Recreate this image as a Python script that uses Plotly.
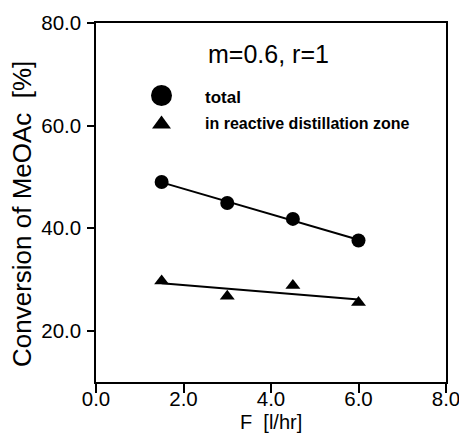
import numpy as np
import plotly.graph_objects as go

# Data
feed_rate = [1.5, 3.0, 4.5, 6.0]                 # F [l/hr]
conv_total = [49.0, 44.9, 41.8, 37.6]            # total conversion [%]
conv_rdz = [29.7, 26.7, 28.8, 25.5]              # conversion in reactive distillation zone [%]
x_ticks = [0, 2, 4, 6, 8]
y_ticks = [20, 40, 60, 80]

FONT = "Liberation Sans, Arial, Helvetica, sans-serif"

def fit(x, y):
    k, b = np.polyfit(x, y, 1)
    xs = [min(x), max(x)]
    return xs, [k * v + b for v in xs]

fig = go.Figure()
for ys, sym, sz in [(conv_total, "circle", 14), (conv_rdz, "triangle-up", 13)]:
    fx, fy = fit(feed_rate, ys)
    fig.add_trace(go.Scatter(x=fx, y=fy, mode="lines",
                             line=dict(color="black", width=2), showlegend=False,
                             hoverinfo="skip"))
    fig.add_trace(go.Scatter(x=feed_rate, y=ys, mode="markers",
                             marker=dict(symbol=sym, size=sz, color="black"),
                             showlegend=False))

W, H = 459, 440
PL, PR, PT, PB = 96, 446, 23, 382          # plot area in screen pixels
L, T = PL, PT
R, B = W - PR, H - PB
pw, ph = PR - PL, PB - PT

def px(x):
    return (x - PL) / pw

def py(y):
    return (PB - y) / ph

shapes = [
    dict(type="circle", xref="paper", yref="paper",
         x0=px(151), x1=px(172), y0=py(106), y1=py(85),
         fillcolor="black", line=dict(color="black", width=0)),
    dict(type="path", xref="paper", yref="paper",
         path=f"M {px(152)} {py(128.5)} L {px(171)} {py(128.5)} L {px(161.5)} {py(115.5)} Z",
         fillcolor="black", line=dict(color="black", width=0)),
]

annotations = [
    dict(text="m=0.6, r=1", x=px(268), y=py(54), xref="paper", yref="paper",
         showarrow=False, xanchor="center", yanchor="middle",
         font=dict(family=FONT, size=25, color="black")),
    dict(text="<b>total</b>", x=px(203), y=py(97), xref="paper", yref="paper",
         showarrow=False, xanchor="left", yanchor="middle",
         font=dict(family=FONT, size=17, color="black")),
    dict(text="<b>in reactive distillation zone</b>", x=px(203), y=py(123),
         xref="paper", yref="paper",
         showarrow=False, xanchor="left", yanchor="middle",
         font=dict(family=FONT, size=16, color="black")),
    dict(text="Conversion of MeOAc  [%]", x=px(22), y=py(214), xref="paper",
         yref="paper", showarrow=False, textangle=-90,
         xanchor="center", yanchor="middle",
         font=dict(family=FONT, size=26, color="black")),
    dict(text="F  [l/hr]", x=px(271), y=py(422), xref="paper", yref="paper",
         showarrow=False, xanchor="center", yanchor="middle",
         font=dict(family=FONT, size=20, color="black")),
]

axis_common = dict(showline=True, linecolor="black", linewidth=1.5, mirror=True,
                   ticks="outside", tickcolor="black", tickwidth=1.5,
                   showgrid=False, zeroline=False, tickformat=".1f",
                   tickfont=dict(family=FONT, size=20.5, color="black"),
                   automargin=False, ticklabeloverflow="allow")

fig.update_layout(
    width=W, height=H,
    margin=dict(l=L, r=R, t=T, b=B),
    paper_bgcolor="white", plot_bgcolor="white",
    xaxis=dict(range=[0, 8], tickvals=x_ticks, ticklen=9,
               ticklabelstandoff=-11, **axis_common),
    yaxis=dict(range=[10, 80], tickvals=y_ticks, ticklen=7,
               ticklabelstandoff=2, **axis_common),
    shapes=shapes, annotations=annotations, showlegend=False,
)

fig.write_html(
    "out.html",
    config={"displayModeBar": False},
    post_script="document.body.style.margin='0';document.body.style.overflow='hidden';",
)
